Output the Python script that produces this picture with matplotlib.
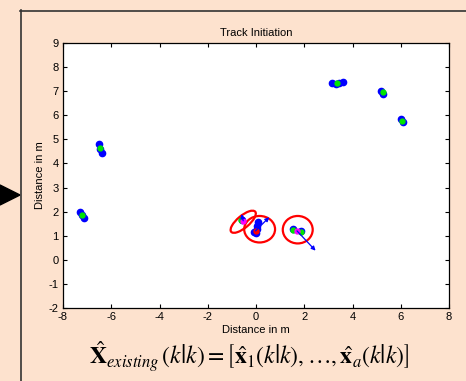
import matplotlib.pyplot as plt
from matplotlib.patches import Ellipse, Polygon
from matplotlib.lines import Line2D

plt.rcParams['axes.unicode_minus'] = False
plt.rcParams['mathtext.fontset'] = 'stix'

# measured track points (blue), smoothed estimates (green)
blue_x = [-7.3, -7.22, -7.15, -6.5, -6.45, -6.4, 3.15, 3.3, 3.45, 3.6,
          5.2, 5.28, 6.0, 6.1, -0.1, 0.02, 0.05, 0.08, 0.06, 1.55, 1.85, -0.6]
blue_y = [2.0, 1.85, 1.75, 4.8, 4.6, 4.45, 7.35, 7.3, 7.32, 7.38,
          7.0, 6.9, 5.85, 5.72, 1.15, 1.1, 1.4, 1.55, 1.3, 1.3, 1.2, 1.66]
green_x = [-7.22, -6.45, 3.35, 5.25, 6.05, 1.55, 1.85, -0.62]
green_y = [1.88, 4.65, 7.33, 6.95, 5.78, 1.25, 1.15, 1.65]
magenta_x = [-0.53, 1.7]
magenta_y = [1.62, 1.2]
red_x = [-0.02]
red_y = [1.2]

# velocity arrows: start and end
arrow_start = [(-0.02, 1.2), (1.7, 1.2), (-0.53, 1.62)]
arrow_end = [(0.55, 1.77), (2.47, 0.38), (-0.6, 1.9)]

# gating ellipses: centre, width, height, angle
gate_cx = [0.15, 1.73, -0.53]
gate_cy = [1.27, 1.25, 1.58]
gate_w = [1.28, 1.24, 1.3]
gate_h = [1.1, 1.14, 0.5]
gate_ang = [0, 0, 40]

bg = '#fde2ce'
fig = plt.figure(figsize=(4.66, 3.81), dpi=100, facecolor=bg)

# slide panel frame and pointer
fig.add_artist(Line2D([20.5 / 466, 20.5 / 466], [0, 1 - 10 / 381], color='#333333', lw=1.2))
fig.add_artist(Line2D([20 / 466, 1], [1 - 10.5 / 381, 1 - 10.5 / 381], color='#333333', lw=1.2))
fig.add_artist(Polygon([[0, 1 - 185 / 381], [20 / 466, 1 - 195 / 381], [0, 1 - 205 / 381]],
                       closed=True, color='black', transform=fig.transFigure))

ax = fig.add_axes([63 / 466, 73 / 381, 386 / 466, 265 / 381])
ax.set_facecolor('white')

for (x0, y0), (x1, y1) in zip(arrow_start, arrow_end):
    ax.annotate('', xy=(x1, y1), xytext=(x0, y0),
                arrowprops=dict(arrowstyle='-|>', color='#0000ff', lw=0.9,
                                mutation_scale=6, shrinkA=0, shrinkB=0))

ax.plot(blue_x, blue_y, 'o', color='#0000ff', ms=4.5, mec='#0000ff')
ax.plot(green_x, green_y, 'o', color='#00e600', ms=3.5, mec='#00e600')
ax.plot(magenta_x, magenta_y, 'o', color='#ff00ff', ms=3.5, mec='#ff00ff')
ax.plot(red_x, red_y, 'o', color='red', ms=3.5, mec='red')

for cx, cy, w, h, a in zip(gate_cx, gate_cy, gate_w, gate_h, gate_ang):
    ax.add_patch(Ellipse((cx, cy), w, h, angle=a, fill=False, ec='red', lw=1.6))

ax.set_xlim(-8, 8)
ax.set_ylim(-2, 9)
ax.set_xticks(range(-8, 9, 2))
ax.set_yticks(range(-2, 10))
ax.tick_params(direction='in', length=3, top=True, right=True, labelsize=8, pad=3)
for s in ax.spines.values():
    s.set_linewidth(0.9)
for lab in ax.get_xticklabels() + ax.get_yticklabels():
    lab.set_family('Liberation Sans')

ax.set_title('Track Initiation', fontsize=8, family='Liberation Sans', pad=5)
ax.set_xlabel('Distance in m', fontsize=8, family='Liberation Sans', labelpad=2)
ax.set_ylabel('Distance in m', fontsize=8, family='Liberation Sans', labelpad=3)

fig.text(249 / 466, 1 - 357 / 381,
         r'$\hat{\mathbf{X}}_{existing}\,\left(k\left|k\right.\right) = '
         r'\left[\hat{\mathbf{x}}_1\left(k\left|k\right.\right),\ldots,'
         r'\hat{\mathbf{x}}_a\left(k\left|k\right.\right)\right]$',
         fontsize=17, ha='center', va='center')

fig.savefig('out.png', dpi=100, facecolor=bg)
